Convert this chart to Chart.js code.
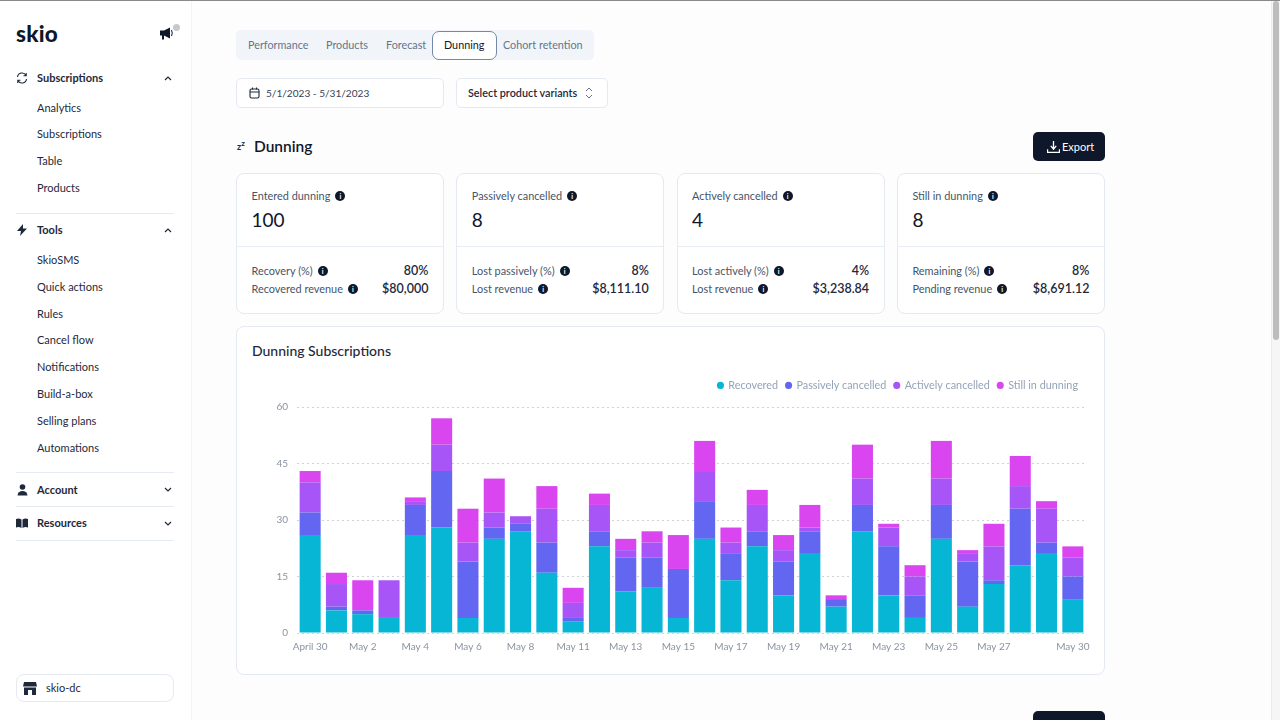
<!DOCTYPE html>
<html><head><meta charset="utf-8">
<script src="https://cdn.jsdelivr.net/npm/chart.js@4"></script>
<style>
*{box-sizing:border-box}
html,body{margin:0;width:1280px;height:720px;overflow:hidden;background:#fff;font-family:Lato,sans-serif;color:#0f172a}
.abs{position:absolute;white-space:nowrap}
#top{left:0;top:0;width:1280px;height:1px;background:#8a8a8a;z-index:5}
#side{left:0;top:1px;width:192px;height:719px;background:#fff;border-right:1px solid #f1f3f7}
.navh{font-size:11px;font-weight:700;color:#1e293b;left:37px;transform:translateY(calc(-50% - 2px))}
.nav{font-size:11px;color:#1e293b;left:37px;transform:translateY(calc(-50% - 2px))}
.hr{left:16px;width:158px;height:1px;background:#e6eaf1}
.ic{position:absolute}
.card{border:1px solid #e5e9f1;border-radius:8px;background:#fff}
.lab{font-size:10.900px;color:#475569;transform:translateY(calc(-50% - .5px))}
.val{font-size:12.500px;font-weight:600;color:#1e293b;transform:translateY(calc(-50% - .5px))}
.big{font-size:19px;color:#0f172a;transform:translateY(calc(-50% - 2px))}
.tab{font-size:10.800px;color:#64748b;transform:translateY(calc(-50% - 2px))}
.i{position:absolute;width:10px;height:10px;border-radius:50%;background:#0f172a;color:#fff;font-size:7px;line-height:10px;text-align:center;font-weight:700;transform:translateY(-50%)}
</style></head><body>
<div class="abs" style="left:192px;top:1px;width:1088px;height:719px;background:#fdfdfe"></div>
<div class="abs" id="top"></div>
<div class="abs" id="side"></div>
<div class="abs" style="left:16px;top:20px;font-size:22.500px;font-weight:900;color:#0f172a;letter-spacing:.2px">skio</div>
<svg class="ic" style="left:159px;top:27px" width="15" height="14" viewBox="0 0 15 14"><path d="M1 3.500h4l6-3v11L5 8.500v4H3v-4H1z" fill="#0f172a"/><path d="M12.500 3q1.500 3 0 6" stroke="#0f172a" fill="none"/></svg>
<div class="abs" style="left:173px;top:24px;width:7px;height:7px;border-radius:50%;background:#c8c8cc"></div>

<svg class="ic" style="left:16px;top:72px" width="12" height="12" viewBox="0 0 12 12" fill="none" stroke="#1e293b" stroke-width="1.100"><path d="M1.500 5A4.500 4.500 0 0 1 10 3.500M10.500 7A4.500 4.500 0 0 1 2 8.500M10.200 1v2.700H7.500M1.800 11V8.300H4.500"/></svg>
<div class="abs navh" style="top:78.500px">Subscriptions</div>
<svg class="ic" style="left:164px;top:76px" width="8" height="5" viewBox="0 0 8 5" fill="none" stroke="#1e293b" stroke-width="1.200"><path d="M1 4l3-3 3 3"/></svg>
<div class="abs nav" style="top:108.500px">Analytics</div>
<div class="abs nav" style="top:135px">Subscriptions</div>
<div class="abs nav" style="top:162px">Table</div>
<div class="abs nav" style="top:189px">Products</div>
<div class="abs hr" style="top:213px"></div>
<svg class="ic" style="left:16px;top:224px" width="12" height="12" viewBox="0 0 12 12"><path d="M7 0L1 7h4l-1 5 7-7.500H7z" fill="#1e293b"/></svg>
<div class="abs navh" style="top:231px">Tools</div>
<svg class="ic" style="left:164px;top:228px" width="8" height="5" viewBox="0 0 8 5" fill="none" stroke="#1e293b" stroke-width="1.200"><path d="M1 4l3-3 3 3"/></svg>
<div class="abs nav" style="top:261px">SkioSMS</div>
<div class="abs nav" style="top:288px">Quick actions</div>
<div class="abs nav" style="top:315px">Rules</div>
<div class="abs nav" style="top:341px">Cancel flow</div>
<div class="abs nav" style="top:368px">Notifications</div>
<div class="abs nav" style="top:395px">Build-a-box</div>
<div class="abs nav" style="top:422px">Selling plans</div>
<div class="abs nav" style="top:449px">Automations</div>
<div class="abs hr" style="top:472px"></div>
<svg class="ic" style="left:17px;top:484px" width="11" height="12" viewBox="0 0 11 12"><circle cx="5.500" cy="3" r="2.800" fill="#1e293b"/><path d="M0.500 11.500a5 4.500 0 0 1 10 0z" fill="#1e293b"/></svg>
<div class="abs navh" style="top:491px">Account</div>
<svg class="ic" style="left:164px;top:487px" width="8" height="5" viewBox="0 0 8 5" fill="none" stroke="#1e293b" stroke-width="1.200"><path d="M1 1l3 3 3-3"/></svg>
<div class="abs hr" style="top:506px"></div>
<svg class="ic" style="left:16px;top:518px" width="12" height="10" viewBox="0 0 12 10"><path d="M0 1q3-1 5.500 .5V10Q3 8.500 0 9.500zM12 1q-3-1-5.500 .5V10q2.500-1.500 5.500-.5z" fill="#1e293b"/></svg>
<div class="abs navh" style="top:524px">Resources</div>
<svg class="ic" style="left:164px;top:521px" width="8" height="5" viewBox="0 0 8 5" fill="none" stroke="#1e293b" stroke-width="1.200"><path d="M1 1l3 3 3-3"/></svg>
<div class="abs hr" style="top:540px"></div>
<div class="abs card" style="left:16px;top:674px;width:158px;height:28px"></div>
<svg class="ic" style="left:23px;top:682px" width="14" height="13" viewBox="0 0 14 13"><path d="M1 0h12l1 4.500H0zM1 5.500h12V13H9V8H5v5H1z" fill="#1e293b"/></svg>
<div class="abs nav" style="left:46px;top:689px">skio-dc</div>

<div class="abs" style="left:236px;top:30px;width:358px;height:30px;background:#f1f5f9;border-radius:5px"></div>
<div class="abs" style="left:432px;top:31px;width:65px;height:29px;background:#fff;border:1.500px solid #7488aa;border-radius:7px"></div>
<div class="abs tab" style="left:248px;top:45.500px">Performance</div>
<div class="abs tab" style="left:326px;top:45.500px">Products</div>
<div class="abs tab" style="left:386px;top:45.500px">Forecast</div>
<div class="abs tab" style="left:444px;top:45.500px;color:#0f172a">Dunning</div>
<div class="abs tab" style="left:503px;top:45.500px">Cohort retention</div>

<div class="abs card" style="left:236px;top:78px;width:208px;height:30px;border-radius:5px"></div>
<svg class="ic" style="left:249px;top:87px" width="11" height="12" viewBox="0 0 11 12" fill="none" stroke="#1e293b" stroke-width="1.100"><rect x="1" y="2" width="9" height="9" rx="1.500"/><path d="M1 5h9M3.500 .5v2M7.500 .5v2"/></svg>
<div class="abs" style="left:266px;top:92.500px;font-size:10.100px;color:#334155;transform:translateY(-50%)">5/1/2023 - 5/31/2023</div>
<div class="abs card" style="left:456px;top:78px;width:152px;height:30px;border-radius:5px"></div>
<div class="abs" style="left:468px;top:91.500px;font-size:10.800px;font-weight:600;color:#1e293b;transform:translateY(-50%)">Select product variants</div>
<svg class="ic" style="left:585px;top:87px" width="8" height="12" viewBox="0 0 8 12" fill="none" stroke="#64748b"><path d="M1 4l3-3 3 3M1 8l3 3 3-3"/></svg>

<div class="abs" style="left:237px;top:141px;font-size:9px;font-weight:700;color:#1e293b">z<sup style="font-size:8px;line-height:0">z</sup></div>
<div class="abs" style="left:254px;top:146px;font-size:15.500px;font-weight:600;color:#0f172a;transform:translateY(-50%)">Dunning</div>
<div class="abs" style="left:1033px;top:132px;width:72px;height:29px;background:#0f172a;border-radius:5px"></div>
<svg class="ic" style="left:1047px;top:140px" width="13" height="13" viewBox="0 0 12 12" fill="none" stroke="#fff" stroke-width="1.200"><path d="M6 1v7M3.500 5.500L6 8.500 8.500 5.500M.5 8.500v3h11v-3"/></svg>
<div class="abs" style="left:1062px;top:146px;font-size:11px;color:#fff;transform:translateY(-50%)">Export</div>

<div id="cards"></div>

<div class="abs card" style="left:236px;top:326px;width:869px;height:349px"></div>
<div class="abs" style="left:252px;top:349.500px;font-size:14px;font-weight:500;color:#1e293b;transform:translateY(-50%)">Dunning Subscriptions</div>
<div class="abs" style="left:240px;top:370px;width:860px;height:290px"><canvas id="c" width="860" height="290" style="width:860px;height:290px"></canvas></div>

<div class="abs" style="left:254px;top:716px;font-size:15px;font-weight:700;color:#0f172a">Billing</div>
<div class="abs" style="left:1033px;top:711px;width:72px;height:12px;background:#0f172a;border-radius:5px 5px 0 0"></div>
<div class="abs" style="left:1271px;top:1px;width:9px;height:719px;background:#f6f6f6;border-left:1px solid #ececec"></div>
<div class="abs" style="left:1273px;top:1px;width:6px;height:339px;background:#bdbdbd;border-radius:3px"></div>

<script>
const categories = ["April 30","May 1","May 2","May 3","May 4","May 5","May 6","May 7","May 8","May 9","May 11","May 12","May 13","May 14","May 15","May 16","May 17","May 18","May 19","May 20","May 21","May 22","May 23","May 24","May 25","May 26","May 27","May 28","May 29","May 30"];
const shownLabels = ["April 30","May 2","May 4","May 6","May 8","May 11","May 13","May 15","May 17","May 19","May 21","May 23","May 25","May 27","May 30"];
const recovered = [26,6,5,4,26,28,4,25,27,16,3,23,11,12,4,25,14,23,10,21,7,27,10,4,25,7,13,18,21,9];
const passivelyCancelled = [6,1,1,0,8,15,15,3,2,8,1,4,9,8,13,10,7,4,9,6,2,7,13,6,9,12,1,15,3,6];
const activelyCancelled = [8,6,0,10,1,7,5,4,2,9,4,7,2,4,0,8,3,7,3,1,0,7,5,5,7,2,9,6,9,5];
const stillInDunning = [3,3,8,0,1,7,9,9,0,6,4,3,3,3,9,8,4,4,4,6,1,9,1,3,10,1,6,8,2,3];
const yTicks = [0,15,30,45,60];
const summaryTitles = ["Entered dunning","Passively cancelled","Actively cancelled","Still in dunning"];
const summaryValues = ["100","8","4","8"];
const rowOneLabels = ["Recovery (%)","Lost passively (%)","Lost actively (%)","Remaining (%)"];
const rowOneValues = ["80%","8%","4%","8%"];
const rowTwoLabels = ["Recovered revenue","Lost revenue","Lost revenue","Pending revenue"];
const rowTwoValues = ["$80,000","$8,111.10","$3,238.84","$8,691.12"];

const host = document.getElementById('cards');
summaryTitles.forEach((t,k)=>{
  const x = 236 + k*220.3;
  const mk = (cls,css,txt)=>{const d=document.createElement('div');d.className='abs '+cls;d.style.cssText=css;d.textContent=txt;host.appendChild(d);return d;};
  mk('card',`left:${x}px;top:173px;width:208px;height:141px`,'');
  mk('',`left:${x}px;top:246px;width:208px;height:1px;background:#e8ecf3`,'');
  const place=(txt,y,cls)=>{const d=mk(cls,`left:${x+15.5}px;top:${y}px`,txt);const w=d.getBoundingClientRect().width;mk('i',`left:${x+15.5+w+5}px;top:${y}px`,'i');};
  place(t,196,'lab');
  mk('big',`left:${x+15.5}px;top:220.5px`,summaryValues[k]);
  place(rowOneLabels[k],271,'lab');
  place(rowTwoLabels[k],289,'lab');
  mk('val',`right:${1280-x-192.5}px;top:271px`,rowOneValues[k]);
  mk('val',`right:${1280-x-192.5}px;top:289px`,rowTwoValues[k]);
});

const legendSpace={id:'legendSpace',beforeLayout(chart){
  const l=chart.legend;
  if(l&&!l._patched){const f=l.fit.bind(l);l.fit=function(){f();this.height=35;};l._patched=true;}
}};
const ds=(label,data,color)=>({label,data,backgroundColor:color,borderWidth:0,categoryPercentage:0.8,barPercentage:1,stack:'s'});
new Chart(document.getElementById('c'),{
  type:'bar',
  plugins:[legendSpace],
  data:{labels:categories,datasets:[
    ds('Recovered',recovered,'#06b6d4'),
    ds('Passively cancelled',passivelyCancelled,'#6366f1'),
    ds('Actively cancelled',activelyCancelled,'#a855f7'),
    ds('Still in dunning',stillInDunning,'#d946ef')]},
  options:{
    responsive:false,animation:false,
    layout:{padding:{left:0,right:14,top:2,bottom:0}},
    plugins:{
      tooltip:{enabled:false},
      legend:{align:'end',position:'top',
        labels:{usePointStyle:true,pointStyle:'circle',boxWidth:5,boxHeight:5,padding:8,color:'#94a3b8',font:{family:'Lato',size:10.8}}}
    },
    scales:{
      x:{stacked:true,grid:{display:false,drawTicks:false},border:{display:false},
        afterFit(a){a.height=27;},
        ticks:{autoSkip:false,maxRotation:0,minRotation:0,color:'#8b93a1',padding:8,font:{family:'Lato',size:10},
          callback(v){const l=this.getLabelForValue(v);return shownLabels.includes(l)?l:'';}}},
      y:{stacked:true,min:0,max:60,afterBuildTicks(a){a.ticks=yTicks.map(value=>({value}));},
        afterFit(a){a.width=57;},
        grid:{color:'#cfd2d8',drawTicks:false},border:{display:false,dash:[2,3]},
        ticks:{color:'#8b93a1',padding:9,font:{family:'Lato',size:10}}}
    }
  }
});
</script>
</body></html>
